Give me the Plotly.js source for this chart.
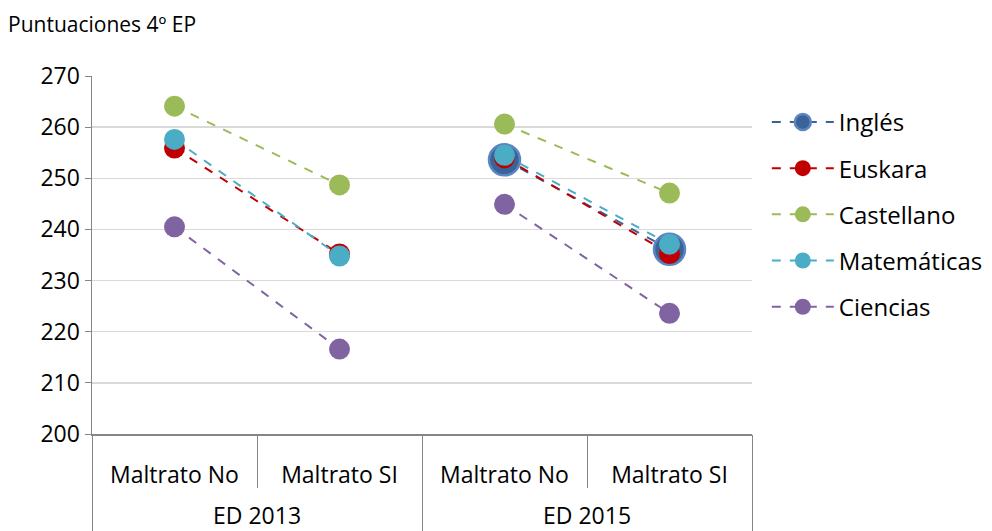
<!DOCTYPE html>
<html>
<head>
<meta charset="utf-8">
<script src="https://cdn.plot.ly/plotly-3.0.1.min.js"></script>
<style>html,body{margin:0;padding:0;background:#fff;}#chart{width:992px;height:531px;}</style>
</head>
<body>
<div id="chart"></div>
<script>
var groups = ['ED 2013', 'ED 2013', 'ED 2015', 'ED 2015'];
var cats = ['Maltrato No', 'Maltrato SI', 'Maltrato No', 'Maltrato SI'];
var groupNames = ['ED 2013', 'ED 2015'];
var subjects = ['Inglés', 'Euskara', 'Castellano', 'Matemáticas', 'Ciencias'];
var ingles = [null, null, 253.6, 236.1];
var euskara = [255.9, 235.2, 254.0, 235.3];
var castellano = [264.1, 248.7, 260.6, 247.1];
var matematicas = [257.6, 234.8, 254.5, 237.1];
var ciencias = [240.5, 216.6, 244.9, 223.6];
var yTicks = [200, 210, 220, 230, 240, 250, 260, 270];

// category slot index for each point (categorical positions 0..3)
var xpos = cats.map(function (_, i) { return i; });
// group centres and boundaries derived from the category slots
var groupCentres = groupNames.map(function (g) {
  var idx = xpos.filter(function (i) { return groups[i] === g; });
  return (idx[0] + idx[idx.length - 1]) / 2;
});
var innerBounds = [], groupBounds = [-0.5];
xpos.forEach(function (i) {
  if (i < xpos.length - 1) {
    if (groups[i] === groups[i + 1]) innerBounds.push(i + 0.5); else groupBounds.push(i + 0.5);
  }
});
groupBounds.push(xpos.length - 0.5);

var series = [ingles, euskara, castellano, matematicas, ciencias];
var colors = ['#3A6399', '#C00000', '#9BBB59', '#4BACC6', '#8064A2'];
var sizes = [31, 21, 21, 21, 21];
var borders = ['#5B86C0', 'rgba(0,0,0,0)', 'rgba(0,0,0,0)', 'rgba(0,0,0,0)', 'rgba(0,0,0,0)'];
var borderW = [2.5, 0, 0, 0, 0];

var traces = [];
subjects.forEach(function (name, s) {
  groupNames.forEach(function (g, k) {
    var y = series[s].map(function (v, i) { return groups[i] === g ? v : null; });
    traces.push({
      type: 'scatter',
      mode: 'lines+markers',
      name: name,
      legendgroup: name,
      showlegend: k === 1,
      x: xpos,
      y: y,
      connectgaps: false,
      line: {color: colors[s], width: 2, dash: 'dash'},
      marker: {color: colors[s], size: sizes[s], line: {color: borders[s], width: borderW[s]}},
      hoverinfo: 'skip'
    });
  });
});
// invisible trace on the group axis so it is drawn
traces.push({type: 'scatter', mode: 'markers', x: groupCentres, y: [null, null], xaxis: 'x2', showlegend: false, hoverinfo: 'skip'});

var layout = {
  width: 992, height: 531,
  margin: {l: 92, r: 240, t: 76, b: 97},
  paper_bgcolor: '#fff', plot_bgcolor: '#fff',
  font: {family: '"Open Sans", sans-serif', color: '#000'},
  showlegend: true,
  legend: {
    xref: 'container', yref: 'container',
    x: 0.773, xanchor: 'left', y: 0.812, yanchor: 'top',
    font: {size: 24, color: '#000'},
    traceorder: 'grouped', tracegroupgap: 12,
    itemwidth: 62
  },
  annotations: [{
    text: 'Puntuaciones 4º EP', xref: 'paper', yref: 'paper',
    x: -0.13, y: 1.145, xanchor: 'left', yanchor: 'middle', showarrow: false,
    font: {size: 21, color: '#000'}
  }],
  xaxis: {
    type: 'linear', range: [-0.5, 3.5], autorange: false,
    tickmode: 'array', tickvals: xpos, ticktext: cats,
    showline: true, linecolor: '#868686', linewidth: 1.5,
    ticks: '', ticklabelstandoff: 20,
    minor: {tickmode: 'array', tickvals: innerBounds, ticks: 'outside', ticklen: 52, tickcolor: '#868686', tickwidth: 1, showgrid: false},
    tickfont: {size: 23, color: '#000'},
    showgrid: false, zeroline: false, fixedrange: true
  },
  xaxis2: {
    type: 'linear', range: [-0.5, 3.5], autorange: false, overlaying: 'x', anchor: 'y', side: 'bottom',
    tickmode: 'array', tickvals: groupCentres, ticktext: groupNames,
    showline: false, ticks: '', ticklabelstandoff: 66,
    minor: {tickmode: 'array', tickvals: groupBounds, ticks: 'outside', ticklen: 100, tickcolor: '#868686', tickwidth: 1, showgrid: false},
    tickfont: {size: 23, color: '#000'},
    showgrid: false, zeroline: false, fixedrange: true
  },
  yaxis: {
    range: [200, 270], tickvals: yTicks, ticktext: yTicks.map(String),
    showline: true, linecolor: '#868686', linewidth: 1.5,
    ticks: 'outside', ticklen: 6, tickcolor: '#868686',
    showgrid: true, gridcolor: '#D9D9D9', gridwidth: 1.5,
    zeroline: false, tickfont: {size: 23, color: '#000'}, fixedrange: true
  }
};

Plotly.newPlot('chart', traces, layout, {displayModeBar: false, staticPlot: true});
</script>
</body>
</html>
